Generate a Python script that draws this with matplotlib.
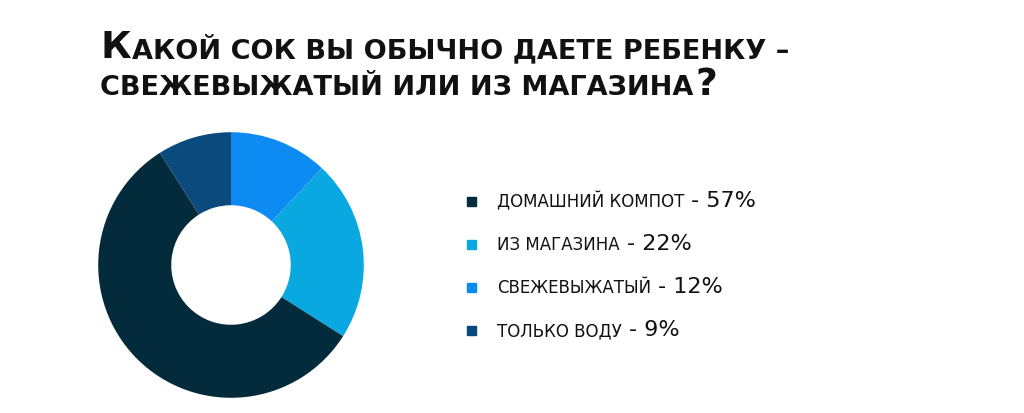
import matplotlib
matplotlib.use("Agg")
import matplotlib.pyplot as plt

labels = ["СВЕЖЕВЫЖАТЫЙ", "ИЗ МАГАЗИНА", "ДОМАШНИЙ КОМПОТ", "ТОЛЬКО ВОДУ"]
values = [12, 22, 57, 9]
colors = ["#0d8bf2", "#0aa8e0", "#042b3c", "#0a4a7c"]
legend_order = [2, 1, 0, 3]

fig = plt.figure(figsize=(10.24, 4.13), dpi=100)
fig.patch.set_facecolor("white")

# donut
S = 332
ax = fig.add_axes([(231 - S / 2) / 1024, (413 - 265 - S / 2) / 413, S / 1024, S / 413])
ax.pie(values, colors=colors, startangle=90, counterclock=False,
       wedgeprops=dict(width=0.55, edgecolor="white", linewidth=0))
ax.set_aspect("equal")
ax.axis("off")

fig.canvas.draw()
r = fig.canvas.get_renderer()


def chain(x, y, parts):
    # place text pieces one after another on a baseline
    for s, fs, gap in parts:
        t = fig.text(x / 1024, 1 - y / 413, s, fontsize=fs, fontweight="bold",
                     family="DejaVu Sans", va="baseline", color="#111111")
        x = t.get_window_extent(r).x1 + gap


# title (small caps imitation)
chain(100, 58, [("К", 27, 1), ("АКОЙ СОК ВЫ ОБЫЧНО ДАЕТЕ РЕБЕНКУ –", 19.5, 0)])
chain(100, 95, [("СВЕЖЕВЫЖАТЫЙ ИЛИ ИЗ МАГАЗИНА", 19.5, 2), ("?", 27, 0)])

# legend
for row, i in enumerate(legend_order):
    y = 1 - (202 + 43 * row) / 413
    fig.patches.append(plt.Rectangle((467 / 1024, y - 4 / 413), 9 / 1024, 9 / 413,
                                     transform=fig.transFigure, color=colors[i]))
    t = fig.text(497 / 1024, y, labels[i], fontsize=12, va="center", color="#111111")
    bb = t.get_window_extent(r)
    fig.text((bb.x1 + 7) / 1024, y + 1 / 413, f"- {values[i]}%", fontsize=16,
             va="center", color="#111111")

fig.savefig("out.png", dpi=100)
